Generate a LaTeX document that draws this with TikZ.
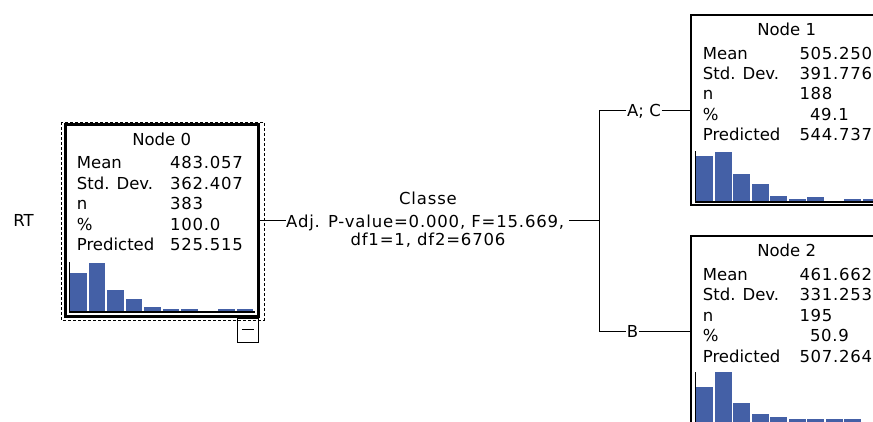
\documentclass[tikz,border=0pt]{standalone}
\usepackage{fontspec}
\newfontfamily\dv{DejaVu Sans}
\newfontfamily\dvw[LetterSpace=4.4]{DejaVu Sans}
\newfontfamily\dvc[LetterSpace=5.0]{DejaVu Sans}
\definecolor{barblue}{HTML}{4460A6}
\tikzset{
  lab/.style={anchor=base west, inner sep=0pt, font=\dv\fontsize{16.5}{19}\selectfont},
  val/.style={anchor=base west, inner sep=0pt, font=\dvw\fontsize{16.5}{19}\selectfont},
  ttl/.style={anchor=base, inner sep=0pt, font=\dv\fontsize{16.5}{19}\selectfont},
  captxt/.style={anchor=base, inner sep=0pt, font=\dvc\fontsize{16.5}{19}\selectfont},
  brlab/.style={anchor=base, inner sep=0.6pt, font=\dv\fontsize{16.5}{19}\selectfont},
  bar/.style={fill=barblue},
  axisln/.style={line width=1.3pt},
  conn/.style={line width=0.9pt},
  box/.style={draw, rectangle, outer sep=0pt, inner sep=0pt},
}
\newcommand{\statrows}[5]{%
  \foreach \lbl [count=\k] in {Mean,Std. Dev.,n,\%,Predicted}{\node[lab] (#1l\k) at (#2,{#4+20.4*\k}) {\lbl};}
  \foreach \vv [count=\k] in {#5}{\node[val] (#1v\k) at (#3,{#4+20.4*\k}) {\vv};}
}
\newcommand{\histo}[5]{%
  \foreach \h [count=\k from 0] in {#4}{\fill[bar] ({#1+0.7+18.5*\k},{#2-0.7}) rectangle ++(16.7,{-\h});}
  \draw[axisln] (#1,#5) -- (#1,#2) -- (#3,#2);
}
\begin{document}
\begin{tikzpicture}[x=1pt,y=-1pt]
\useasboundingbox (0,0) rectangle (873,421);
\clip (0,0) rectangle (873,421);
% boxes
\node[box, line width=2.7pt, minimum width=193.4pt, minimum height=192pt] (n0) at (162,220.7) {};
\node[box, line width=1.5pt, minimum width=190pt, minimum height=190pt] (n1) at (786,110) {};
\node[box, line width=1.5pt, minimum width=190pt, minimum height=190pt] (n2) at (786,331) {};
\draw[line width=1pt, dash pattern=on 3pt off 2pt] (61,122) rectangle (264,320);
\node[box, line width=1pt, minimum width=21.5pt, minimum height=23.5pt] (mb) at (247.8,330.5) {};
\draw[line width=1.2pt] ([shift={(-6,-1)}]mb.center) -- ([shift={(6,-1)}]mb.center);
% texts
\node[ttl] (rt) at (23.5,226) {RT};
\node[ttl] (t0) at (161.7,145) {Node 0};
\statrows{a}{76.7}{170}{148.5}{483.057,362.407,383,100.0,525.515}
\node[ttl] (t1) at (786.7,35) {Node 1};
\statrows{b}{702.7}{799.3}{38.6}{505.250,391.776,188,\phantom{0}49.1,544.737}
\node[ttl] (t2) at (786.7,256.5) {Node 2};
\statrows{c}{702.7}{799.3}{260.1}{461.662,331.253,195,\phantom{0}50.9,507.264}
% histograms
\histo{69.3}{312}{254.5}{38.7,48.7,21,12,4.7,2,2,0,2,2}{262}
\histo{695.7}{202}{880}{45.5,49.5,27.5,17.2,5.5,2.2,3.9,0,2.2,2.2}{151}
\histo{695.7}{422.5}{880}{34.7,49.7,18.7,8,5.3,2.7,2.7,2.7,2.7,0}{372}
% split label
\coordinate (j) at (599,220.7);
\node[captxt] (cls) at (428,204.3) {Classe};
\node[captxt, anchor=base west] (adj) at (286,227) {Adj. P-value=0.000, F=15.669,};
\node[captxt] (df) at (428,245) {df1=1, df2=6706};
\coordinate (adjr) at ([xshift=5pt]adj.east);
\draw[conn] (n0.east) -- (n0.east -| adj.west);
\draw[conn] (adjr |- j) -- (j);
% branches
\node[brlab] (ac) at (644,116.7) {A; C};
\node[brlab] (bb) at (632.5,337.7) {B};
\draw[conn] (j) |- (ac.west |- n1.west);
\draw[conn] (n1.west -| ac.east) -- (n1.west);
\draw[conn] (j) |- (bb.west |- n2.west);
\draw[conn] (n2.west -| bb.east) -- (n2.west);
\end{tikzpicture}
\end{document}
